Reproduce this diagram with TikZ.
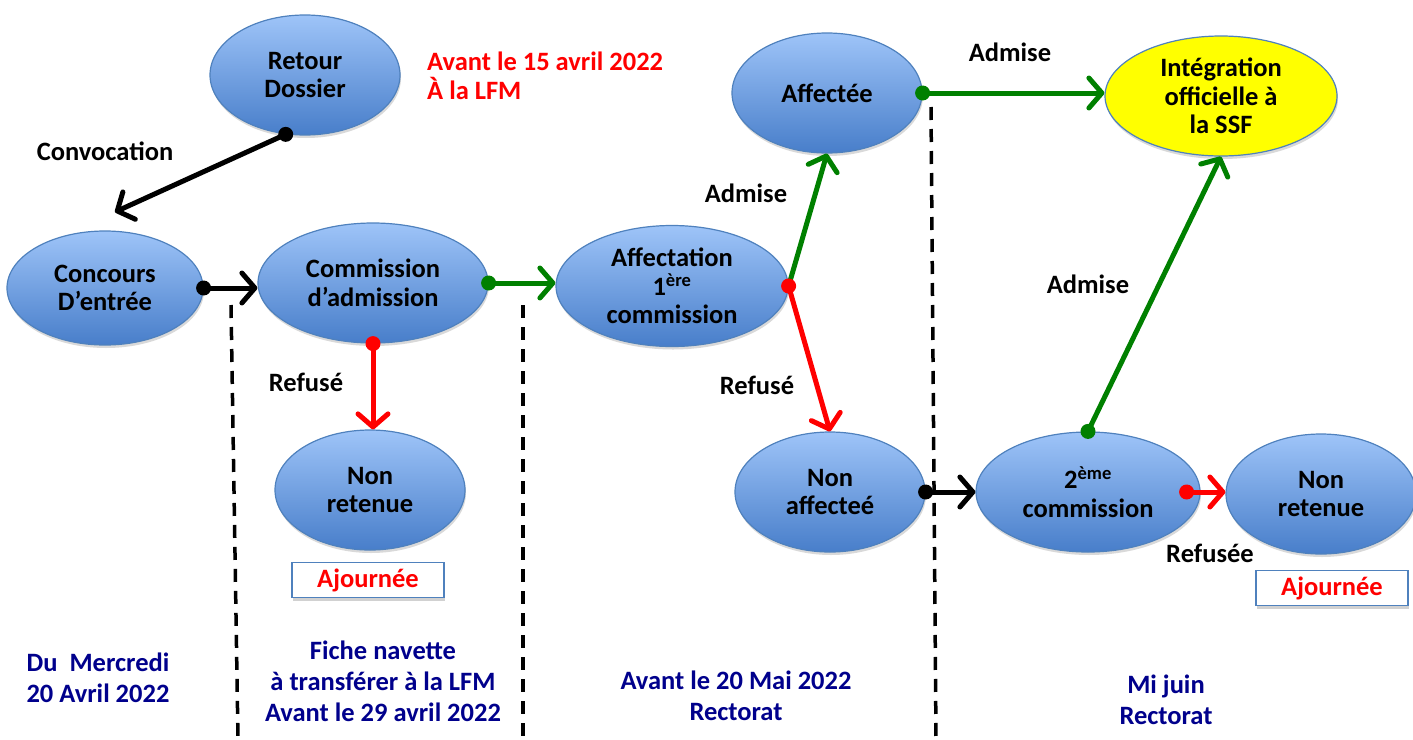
\documentclass[tikz,border=0pt]{standalone}
\usepackage{fontspec}
\setmainfont{Carlito}
\usetikzlibrary{shapes.geometric,arrows.meta,shadows,calc}
\definecolor{bord}{RGB}{79,129,189}
\definecolor{topb}{RGB}{158,196,248}
\definecolor{botb}{RGB}{72,126,202}
\definecolor{grn}{RGB}{0,128,0}
\definecolor{navy}{RGB}{0,0,140}
\definecolor{redc}{RGB}{255,0,0}
\begin{document}
\begin{tikzpicture}[x=1pt,y=-1pt,
  txt/.style={font=\fontsize{26.5}{28.5}\selectfont\bfseries},
  ell/.style={ellipse, draw=bord, line width=1.2pt, top color=topb, bottom color=botb,
    minimum width=190pt, minimum height=120pt, inner sep=0pt, align=center, txt,
    drop shadow={shadow xshift=1pt, shadow yshift=-3pt, opacity=0.25, fill=black!60}},
  boxa/.style={rectangle, draw=bord, line width=1.2pt, fill=white, text=redc,
    minimum width=152pt, minimum height=35pt, inner sep=0pt, txt,
    drop shadow={shadow xshift=1pt, shadow yshift=-3pt, opacity=0.3, fill=black!60}},
  lbl/.style={txt, align=center, inner sep=0pt},
  blbl/.style={font=\fontsize{26.5}{31}\selectfont\bfseries, text=navy, align=center, inner sep=0pt},
  arr/.style={line width=5pt, -{Straight Barb[length=13pt,width=30pt,round]}},
  sep/.style={line width=3.5pt, dash pattern=on 13pt off 9pt, black}
]
\useasboundingbox (0,0) rectangle (1413,739);

% separators
\draw[sep] (231,305) -- (238,739);
\draw[sep] (523,305) -- (523,739);
\draw[sep] (931,107) -- (936,739);

% nodes
\node[ell] (retour) at (305,75) {Retour\\Dossier};
\node[ell, minimum width=196pt, minimum height=114pt] (conc) at (105,288) {Concours\\D’entrée};
\node[ell, minimum width=230pt] (comm) at (373,283) {Commission\\d’admission};
\node[ell] (nr1) at (370,490) {Non\\retenue};
\node[ell, minimum width=232pt, minimum height=121pt] (aff1) at (672,286) {Affectation\\1\textsuperscript{ère}\\commission};
\node[ell] (affd) at (827,93) {Affectée};
\node[ell] (naff) at (830,492) {Non\\affecteé};
\node[ell, minimum width=224pt] (c2) at (1088,492) {2\textsuperscript{ème}\\commission};
\node[ell] (nr2) at (1321,494) {Non\\retenue};
\node[ell, top color=yellow, bottom color=yellow, minimum width=232pt] (integ) at (1221,96) {Intégration\\officielle à\\la SSF};

\node[boxa] (aj1) at (368,580) {Ajournée};
\node[boxa] (aj2) at (1332,588) {Ajournée};

% labels
\node[lbl] (convoc) at (105,151) {Convocation};
\node[lbl, text=redc, align=left, anchor=west] (av15) at (427,76) {Avant le 15 avril 2022\\À la LFM};
\node[lbl] (ref1) at (306,382) {Refusé};
\node[lbl] (adm1) at (746,193) {Admise};
\node[lbl] (ref2) at (757,385) {Refusé};
\node[lbl] (adm2) at (1010,52) {Admise};
\node[lbl] (adm3) at (1088,284) {Admise};
\node[lbl] (ref3) at (1210,553) {Refusée};

\node[blbl] (d1) at (98,678) {Du~~Mercredi\\20 Avril 2022};
\node[blbl] (d2) at (383,681) {Fiche navette\\à transférer à la LFM\\Avant le 29 avril 2022};
\node[blbl] (d3) at (736,696) {Avant le 20 Mai 2022\\Rectorat};
\node[blbl] (d4) at (1166,700) {Mi juin\\Rectorat};

% connectors
\coordinate (convend) at (115,212);
\draw[arr, black] (retour.252) -- (convend);
\fill[black] (retour.252) circle (7.5pt);

\draw[arr, black] (conc.east) -- (comm.west |- conc.east);
\fill[black] (conc.east) circle (7.5pt);

\draw[arr, grn] (comm.east) -- (aff1.west |- comm.east);
\fill[grn] (comm.east) circle (7.5pt);

\draw[arr, redc] (comm.south) -- (comm.south |- nr1.north);
\fill[redc] (comm.south) circle (7.5pt);

\draw[arr, grn] (aff1.east) -- (affd.south);
\draw[arr, redc] (aff1.east) -- (naff.north);
\fill[redc] (aff1.east) circle (7.5pt);

\draw[arr, grn] (affd.east) -- (integ.west |- affd.east);
\fill[grn] (affd.east) circle (7.5pt);

\draw[arr, black] (naff.east) -- (c2.west |- naff.east);
\fill[black] (naff.east) circle (7.5pt);

\coordinate (c2r) at ($(c2.east)+(-14,0)$);
\draw[arr, redc] (c2r) -- (nr2.west |- c2r);
\fill[redc] (c2r) circle (7.5pt);

\draw[arr, grn] (c2.north) -- (integ.south);
\fill[grn] (c2.north) circle (7.5pt);
\end{tikzpicture}
\end{document}
